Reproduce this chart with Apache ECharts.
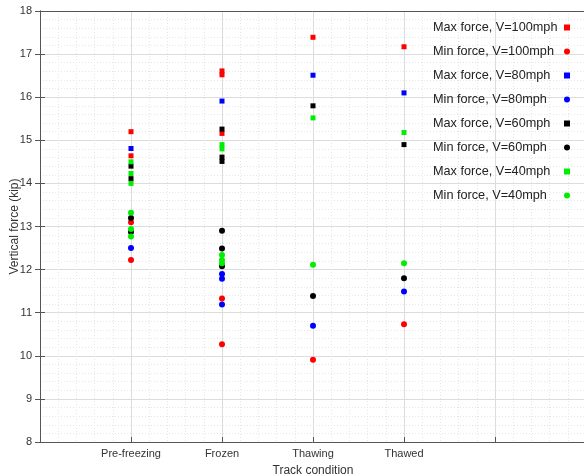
<!DOCTYPE html>
<html>
<head>
<meta charset="utf-8">
<script src="https://cdn.jsdelivr.net/npm/echarts@6/dist/echarts.min.js"></script>
<style>
  html, body { margin: 0; padding: 0; background: #fff; }
  #chart { width: 584px; height: 476px; }
</style>
</head>
<body>
<div id="chart"></div>
<script>
// track conditions, placed at x = 1..4
const conditions = ['Pre-freezing', 'Frozen', 'Thawing', 'Thawed']

// values per condition (kip), one inner list per condition
const maxF100 = [[15.2, 14.64], [16.61, 16.52, 15.16], [17.39], [17.17]]
const minF100 = [[13.10, 12.22], [11.33, 10.27], [9.91], [10.73]]
const maxF80 = [[14.81], [15.91], [16.51], [16.10]]
const minF80 = [[12.50], [11.90, 11.79, 11.19], [10.70], [11.49]]
const maxF60 = [[14.40, 14.11], [15.26, 14.61, 14.51], [15.80], [14.90]]
const minF60 = [[13.20, 12.87], [12.90, 12.49, 12.08], [11.39], [11.80]]
const maxF40 = [[14.50, 14.23, 14.00], [14.90, 14.80], [15.52], [15.18]]
const minF40 = [[13.32, 12.94, 12.77], [12.34, 12.22, 12.15], [12.11], [12.15]]

const seriesNames = [
  'Max force, V=100mph', 'Min force, V=100mph',
  'Max force, V=80mph', 'Min force, V=80mph',
  'Max force, V=60mph', 'Min force, V=60mph',
  'Max force, V=40mph', 'Min force, V=40mph'
]
const seriesValues = [maxF100, minF100, maxF80, minF80, maxF60, minF60, maxF40, minF40]
const seriesColors = ['#ff0000', '#ff0000', '#0000ff', '#0000ff', '#000000', '#000000', '#00ee00', '#00ee00']

const font = 'Liberation Sans, Arial, sans-serif'

function toPoints(vals) {
  const pts = []
  vals.forEach((list, i) => {
    list.forEach(v => pts.push([i + 1, v]))
  })
  return pts
}

const chart = echarts.init(document.getElementById('chart'))
const series = []
for (let i = 0; i < seriesNames.length; i++) {
  const isMax = i % 2 === 0
  series.push({
    name: seriesNames[i],
    type: 'scatter',
    symbol: isMax ? 'rect' : 'circle',
    symbolSize: isMax ? 5 : 6,
    itemStyle: { color: seriesColors[i], opacity: 1 },
    data: toPoints(seriesValues[i])
  })
}

const gridLine = { show: true, lineStyle: { color: '#dcdcdc', width: 1 } }
const minorLine = { show: true, lineStyle: { color: '#e6e6e6', width: 1, type: [1, 2] } }
const axisLineStyle = { show: true, lineStyle: { color: '#555', width: 1 } }

const option = {
  animation: false,
  backgroundColor: '#fff',
  grid: { left: 40, right: -2, top: 11, bottom: 34, containLabel: false, outerBoundsMode: 'none' },
  legend: {
    orient: 'vertical',
    right: 9,
    top: 16,
    align: 'right',
    itemWidth: 6,
    itemHeight: 6,
    itemGap: 11,
    formatter: name => '{t|' + name + '}',
    textStyle: {
      fontFamily: font, fontSize: 12.7, color: '#222',
      rich: { t: { fontFamily: font, fontSize: 12.7, color: '#222', width: 126, align: 'left' } }
    },
    data: seriesNames
  },
  xAxis: [{
    type: 'value',
    min: 0,
    max: 6,
    interval: 1,
    name: 'Track condition',
    nameLocation: 'middle',
    nameGap: 23,
    nameMoveOverlap: false,
    nameTextStyle: { fontFamily: font, fontSize: 12, color: '#333' },
    axisLine: axisLineStyle,
    axisTick: { show: true, inside: true, length: 5, lineStyle: { color: '#555' } },
    axisLabel: {
      fontFamily: font, fontSize: 11, color: '#333', margin: 6,
      formatter: v => conditions[v - 1] || ''
    },
    splitLine: gridLine,
    minorTick: { show: false, splitNumber: 5 },
    minorSplitLine: minorLine
  }, {
    type: 'value', position: 'top', min: 0, max: 6, interval: 1,
    axisLine: axisLineStyle,
    axisTick: { show: false },
    axisLabel: { show: false },
    splitLine: { show: false }
  }],
  yAxis: [{
    type: 'value',
    min: 8,
    max: 18,
    interval: 1,
    name: 'Vertical force (kip)',
    nameLocation: 'middle',
    nameGap: 19,
    nameMoveOverlap: false,
    nameTextStyle: { fontFamily: font, fontSize: 12, color: '#333' },
    axisLine: axisLineStyle,
    axisTick: { show: true, inside: true, length: 5, lineStyle: { color: '#555' } },
    axisLabel: { fontFamily: font, fontSize: 11, color: '#333', margin: 8 },
    splitLine: gridLine,
    minorTick: { show: false, splitNumber: 5 },
    minorSplitLine: minorLine
  }, {
    type: 'value', position: 'right', min: 8, max: 18, interval: 1,
    axisLine: axisLineStyle,
    axisTick: { show: true, inside: true, length: 5, lineStyle: { color: '#555' } },
    axisLabel: { show: false },
    splitLine: { show: false }
  }],
  series: series
}
chart.setOption(option)
</script>
</body>
</html>
